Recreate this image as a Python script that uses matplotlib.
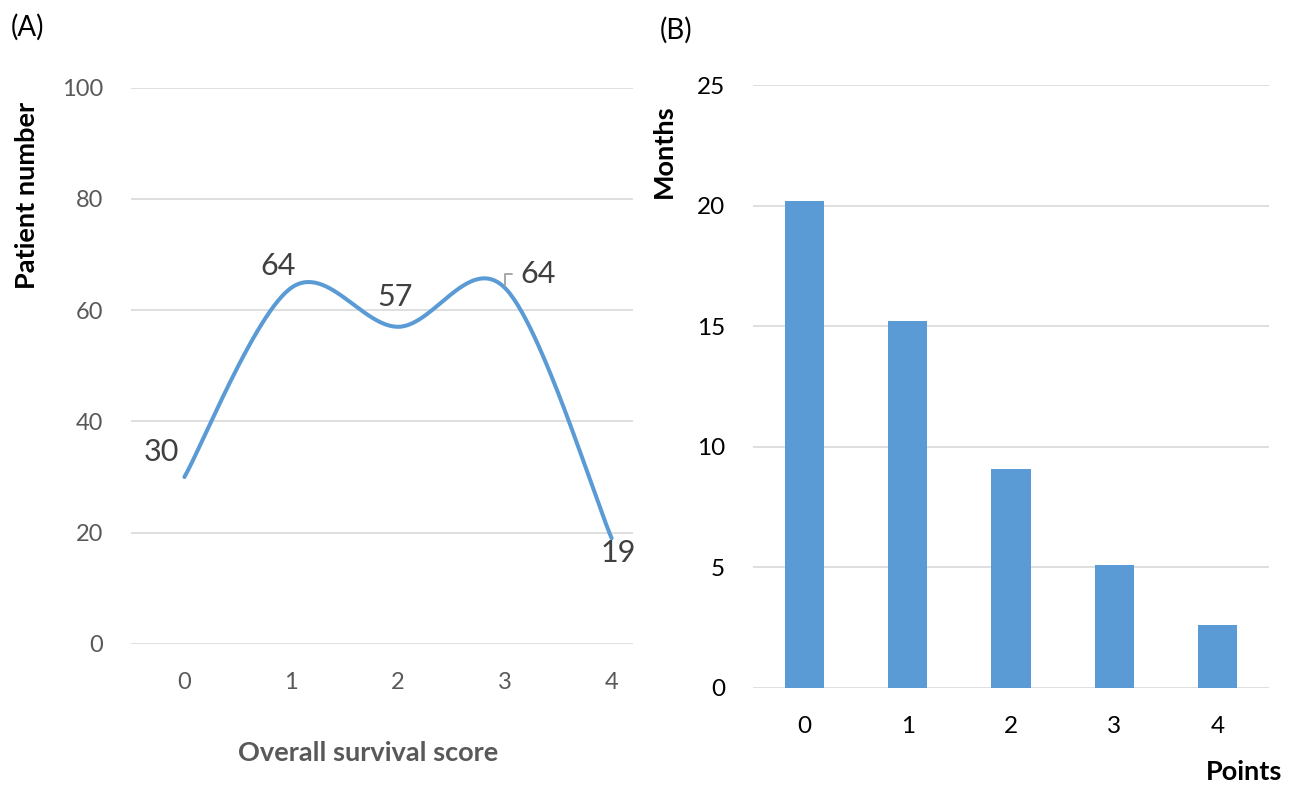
import numpy as np
import matplotlib
matplotlib.use("Agg")
import matplotlib.pyplot as plt

plt.rcParams['font.family'] = ['Lato', 'DejaVu Sans']

# panel A data
scores = [0, 1, 2, 3, 4]
patients = [30, 64, 57, 64, 19]
# panel B data
points = [0, 1, 2, 3, 4]
months = [20.2, 15.2, 9.1, 5.1, 2.6]

blue = '#5B9BD5'
grid_col = '#D9D9D9'


def smooth(xs, ys, n=60):
    # Excel style smoothed line (Catmull-Rom as cubic bezier)
    p = np.column_stack([xs, ys]).astype(float)
    out = []
    for i in range(len(p) - 1):
        p0 = p[i - 1] if i > 0 else p[i]
        p3 = p[i + 2] if i + 2 < len(p) else p[i + 1]
        c1 = p[i] + (p[i + 1] - p0) / 6
        c2 = p[i + 1] - (p3 - p[i]) / 6
        t = np.linspace(0, 1, n)[:, None]
        seg = ((1 - t) ** 3) * p[i] + 3 * (1 - t) ** 2 * t * c1 + 3 * (1 - t) * t ** 2 * c2 + t ** 3 * p[i + 1]
        out.append(seg)
    out = np.vstack(out)
    return out[:, 0], out[:, 1]


W, H = 1301, 785
fig = plt.figure(figsize=(W / 100, H / 100), dpi=100)


def fx(px):
    return px / W


def fy(py):
    return 1 - py / H


# ---- panel A
ax1 = fig.add_axes([fx(131), fy(644), fx(633) - fx(131), fy(87.5) - fy(644)])
sx, sy = smooth(scores, patients)
ax1.plot(sx, sy, color=blue, lw=2.9, solid_capstyle='round')
ax1.set_xlim(-0.5, 4.2)
ax1.set_ylim(0, 100)
ax1.set_yticks([0, 20, 40, 60, 80, 100])
ax1.set_xticks(scores)
ax1.grid(axis='y', color=grid_col, lw=1.2)
ax1.set_axisbelow(True)
for s in ax1.spines.values():
    s.set_visible(False)
ax1.tick_params(length=0, labelsize=17, labelcolor='#595959', pad=20)

offsets = [(-23, 25), (-13, 22), (-3, 30), (33, 14), (7, -15)]
for i, (x, y) in enumerate(zip(scores, patients)):
    if i == 3:
        ax1.annotate(str(y), xy=(x, y), xytext=offsets[i], textcoords='offset pixels',
                     ha='center', va='center', fontsize=22, color='#404040',
                     arrowprops=dict(arrowstyle='-', color='#A0A0A0', lw=1.3,
                                     connectionstyle='angle,angleA=0,angleB=90,rad=0',
                                     shrinkA=4, shrinkB=1))
    else:
        ax1.annotate(str(y), xy=(x, y), xytext=offsets[i], textcoords='offset pixels',
                     ha='center', va='center', fontsize=22, color='#404040')

fig.text(fx(27), fy(195), 'Patient number', rotation=90, ha='center', va='center',
         fontsize=19.5, fontweight='bold', color='black')
fig.text(fx(368), fy(753), 'Overall survival score', ha='center', va='center',
         fontsize=19.5, fontweight='bold', color='#595959')
fig.text(fx(27.5), fy(27), '(A)', ha='center', va='center', fontsize=20, color='black')

# ---- panel B
ax2 = fig.add_axes([fx(753), fy(688), fx(1269) - fx(753), fy(85) - fy(688)])
ax2.bar(points, months, width=0.38, color=blue)
ax2.set_xlim(-0.5, 4.5)
ax2.set_ylim(0, 25)
ax2.set_yticks([0, 5, 10, 15, 20, 25])
ax2.set_xticks(points)
ax2.grid(axis='y', color=grid_col, lw=1.2)
ax2.set_axisbelow(True)
for s in ax2.spines.values():
    s.set_visible(False)
ax2.tick_params(length=0, labelsize=17.5, labelcolor='black', pad=20)

fig.text(fx(664), fy(151), 'Months', rotation=90, ha='center', va='center',
         fontsize=19.5, fontweight='bold', color='black')
fig.text(fx(1282), fy(772), 'Points', ha='right', va='center',
         fontsize=19.5, fontweight='bold', color='black')
fig.text(fx(676), fy(30), '(B)', ha='center', va='center', fontsize=20, color='black')

fig.savefig('out.png', dpi=100)
